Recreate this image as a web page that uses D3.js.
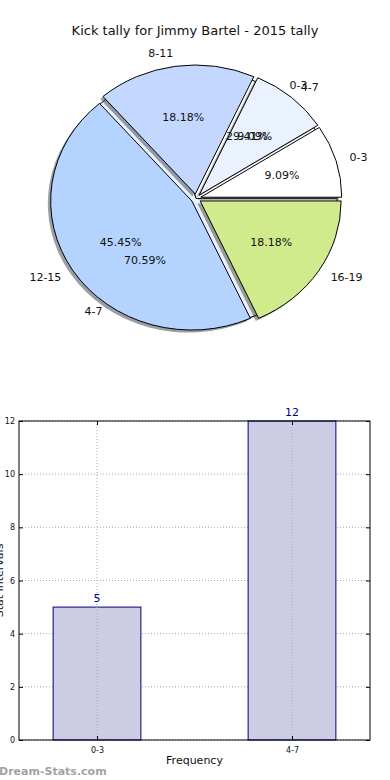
<!DOCTYPE html>
<html><head><meta charset="utf-8">
<script src="https://cdn.jsdelivr.net/npm/d3@7"></script>
<style>body{margin:0;background:#fff}svg{display:block;font-family:"DejaVu Sans",sans-serif}</style>
</head><body><svg id="c" width="390" height="780"></svg>
<script>
const title = "Kick tally for Jimmy Bartel - 2015 tally";
const pieCats1 = ["0-3","4-7","8-11","12-15","16-19"];
const pieVals1 = [1,1,2,5,2];
const pieCats2 = ["0-3","4-7"];
const pieVals2 = [5,12];
const pieColors = ["#ffffff","#eaf2ff","#c4d8ff","#b4d4ff","#d0ea8c"];
const barCats = ["0-3","4-7"];
const barVals = [5,12];
const yTicks = [0,2,4,6,8,10,12];

const svg = d3.select("#c");
svg.append("text").attr("x",195).attr("y",35).attr("text-anchor","middle")
  .attr("font-size",13).attr("fill","#111").text(title);

const cx=196, cy=198.5, rx=141, ry=129;
const wedgeLayer = svg.append("g");
const textLayer = svg.append("g");
function drawPie(cats, vals, explode){
  const total = d3.sum(vals);
  const pie = d3.pie().sort(null).value(d=>d)
    .startAngle(Math.PI/2).endAngle(Math.PI/2 - 2*Math.PI); // ccw from 3 o'clock
  const arcs = pie(vals);
  const arc = d3.arc().innerRadius(0).outerRadius(1);
  arcs.forEach((a,i)=>{
    const mid = (a.startAngle+a.endAngle)/2;
    const th = Math.PI/2 - mid;
    const ox = cx + explode*rx*Math.cos(th), oy = cy - explode*ry*Math.sin(th);
    const sc = d3.rgb(pieColors[i]);
    wedgeLayer.append("path").attr("d",arc(a))
      .attr("transform",`translate(${ox-0.02*rx},${oy+0.02*ry}) scale(${rx},${ry})`)
      .attr("fill",d3.rgb(sc.r*0.3,sc.g*0.3,sc.b*0.3)).attr("opacity",0.5);
    wedgeLayer.append("path").attr("d",arc(a))
      .attr("transform",`translate(${ox},${oy}) scale(${rx},${ry})`)
      .attr("fill",pieColors[i]).attr("stroke","#000").attr("stroke-width",1)
      .attr("vector-effect","non-scaling-stroke").attr("stroke-linejoin","round");
    const c = Math.cos(th), s = Math.sin(th);
    textLayer.append("text").attr("x",ox+1.1*rx*c).attr("y",oy-1.1*ry*s)
      .attr("text-anchor", c>=0?"start":"end").attr("dominant-baseline","central")
      .attr("font-size",11).attr("fill","#111").text(cats[i]);
    textLayer.append("text").attr("x",ox+0.6*rx*c).attr("y",oy-0.6*ry*s)
      .attr("text-anchor","middle").attr("dominant-baseline","central")
      .attr("font-size",11).attr("fill","#111").text((vals[i]/total*100).toFixed(2)+"%");
  });
}
drawPie(pieCats2, pieVals2, 0);
drawPie(pieCats1, pieVals1, 0.035);

// Bar chart
const L=19, R=370, T=421, B=740;
const x = d3.scaleLinear().domain([-0.4,1.4]).range([L,R]);
const y = d3.scaleLinear().domain([0,12]).range([B,T]);
const bg = svg.append("g");
yTicks.forEach(t=>{
  bg.append("line").attr("x1",L).attr("x2",R).attr("y1",y(t)).attr("y2",y(t))
    .attr("stroke","#aaa").attr("stroke-dasharray","1,2").attr("stroke-width",1);
});
barCats.forEach((c,i)=>{
  bg.append("rect").attr("x",x(i-0.225)).attr("y",y(barVals[i]))
    .attr("width",x(i+0.225)-x(i-0.225)).attr("height",y(0)-y(barVals[i]))
    .attr("fill","#ccccE4").attr("stroke","#000080").attr("stroke-width",1);
});
barCats.forEach((c,i)=>{
  bg.append("line").attr("x1",x(i)).attr("x2",x(i)).attr("y1",T).attr("y2",B)
    .attr("stroke","#aaa").attr("stroke-dasharray","1,2").attr("stroke-width",1);
  bg.append("text").attr("x",x(i)).attr("y",y(barVals[i])-5).attr("text-anchor","middle")
    .attr("font-size",11).attr("fill","#000080").text(barVals[i]);
});
const yAx = bg.append("g").attr("transform",`translate(${L},0)`)
  .call(d3.axisLeft(y).tickValues(yTicks).tickSize(-4).tickPadding(4).tickFormat(d3.format("d")));
const yAxR = bg.append("g").attr("transform",`translate(${R},0)`)
  .call(d3.axisRight(y).tickValues(yTicks).tickSize(-4).tickFormat(""));
const xAx = bg.append("g").attr("transform",`translate(0,${B})`)
  .call(d3.axisBottom(x).tickValues([0,1]).tickSize(-4).tickPadding(7).tickFormat(i=>barCats[i]));
const xAxT = bg.append("g").attr("transform",`translate(0,${T})`)
  .call(d3.axisTop(x).tickValues([0,1]).tickSize(-4).tickFormat(""));
[yAx,yAxR,xAx,xAxT].forEach(a=>{
  a.select(".domain").remove();
  a.selectAll("line").attr("stroke","#000");
  a.selectAll("text").attr("font-size",8).attr("fill","#111").attr("font-family","DejaVu Sans");
});
bg.append("rect").attr("x",L).attr("y",T).attr("width",R-L).attr("height",B-T)
  .attr("fill","none").attr("stroke","#000").attr("stroke-width",1);
bg.append("text").attr("x",(L+R)/2).attr("y",764).attr("text-anchor","middle")
  .attr("font-size",11).attr("fill","#111").text("Frequency");
bg.append("text").attr("transform",`translate(3,${(T+B)/2}) rotate(-90)`).attr("text-anchor","middle")
  .attr("font-size",11).attr("fill","#111").text("Stat Intervals");
svg.append("text").attr("x",-1).attr("y",775).attr("font-size",11).attr("font-weight","bold")
  .attr("fill","#999").attr("opacity",0.9).text("Dream-Stats.com");
</script></body></html>
